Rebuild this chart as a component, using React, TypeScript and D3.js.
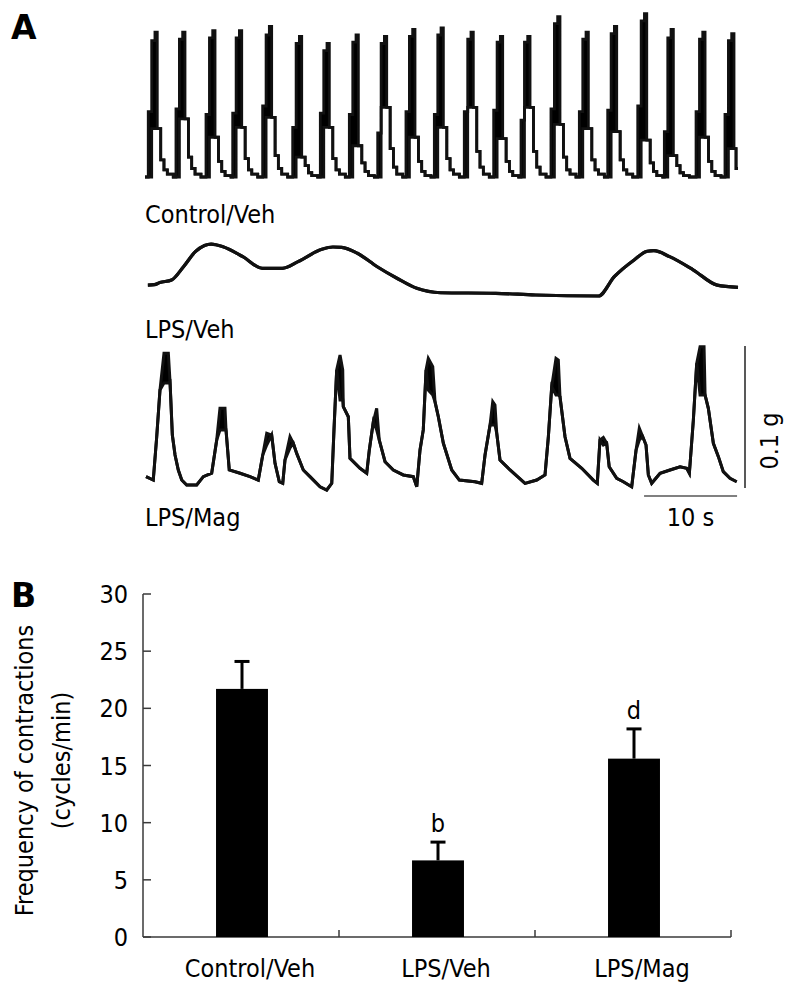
import React from 'react';
import * as d3 from 'd3';

const W = 799;
const H = 992;

// ---------- Panel A: isometric contraction traces ----------
// time in s, force in mg; [time, upper, lower?] (lower defaults to upper)
const traceDuration = 63.76;
const controlTrace: number[][] = [
  [0, 0], [0.35, 46, 0], [0.72, 96, 34], [1.07, 102, 34], [1.32, 34], [1.69, 12], [2.04, 5], [2.4, 2], [3.04, 0],
  [3.33, 48, 0], [3.7, 97, 41], [4.05, 102, 41], [4.3, 41], [4.67, 14], [5.02, 6], [5.38, 2], [6.02, 0],
  [6.56, 44, 0], [6.93, 98, 28], [7.28, 103, 28], [7.53, 28], [7.9, 11], [8.25, 4], [8.61, 1], [9.25, 0],
  [9.43, 45, 0], [9.8, 98, 35], [10.15, 103, 35], [10.4, 35], [10.77, 13], [11.12, 5], [11.48, 2], [12.12, 0],
  [12.65, 50, 0], [13.02, 100, 42], [13.37, 106, 42], [13.62, 42], [13.99, 15], [14.34, 6], [14.7, 2], [15.34, 0],
  [15.88, 35, 0], [16.25, 94, 14], [16.6, 99, 14], [16.85, 14], [17.22, 8], [17.57, 3], [17.93, 1], [18.57, 0],
  [18.85, 45, 0], [19.22, 89, 35], [19.57, 94, 35], [19.82, 35], [20.19, 13], [20.54, 5], [20.9, 2], [21.54, 0],
  [21.97, 44, 0], [22.34, 95, 22], [22.69, 100, 22], [22.94, 22], [23.31, 10], [23.66, 4], [24.02, 1], [24.66, 0],
  [25.02, 31, 0], [25.39, 94, 49], [25.74, 99, 49], [25.99, 49], [26.36, 20], [26.71, 7], [27.07, 2], [27.71, 0],
  [28.06, 46, 0], [28.43, 99, 28], [28.78, 104, 28], [29.03, 28], [29.4, 11], [29.75, 4], [30.11, 1], [30.75, 0],
  [31.11, 44, 0], [31.48, 100, 35], [31.83, 105, 35], [32.08, 35], [32.45, 13], [32.8, 5], [33.16, 2], [33.8, 0],
  [34.33, 46, 0], [34.7, 97, 49], [35.05, 102, 49], [35.3, 49], [35.67, 18], [36.02, 7], [36.38, 2], [37.02, 0],
  [37.49, 47, 0], [37.86, 95, 27], [38.21, 99, 27], [38.46, 27], [38.83, 11], [39.18, 4], [39.54, 1], [40.18, 0],
  [40.43, 40, 0], [40.8, 95, 49], [41.15, 99, 49], [41.4, 49], [41.77, 18], [42.12, 7], [42.48, 2], [43.12, 0],
  [43.65, 48, 0], [44.02, 108, 37], [44.37, 113, 37], [44.62, 37], [44.99, 14], [45.34, 5], [45.7, 2], [46.34, 0],
  [46.7, 46, 0], [47.07, 97, 34], [47.42, 102, 34], [47.67, 34], [48.04, 12], [48.39, 5], [48.75, 2], [49.39, 0],
  [49.75, 47, 0], [50.12, 101, 32], [50.47, 106, 32], [50.72, 32], [51.09, 12], [51.44, 5], [51.8, 2], [52.44, 0],
  [52.98, 50, 0], [53.35, 110, 26], [53.7, 115, 26], [53.95, 26], [54.32, 10], [54.67, 4], [55.03, 1], [55.67, 0],
  [55.84, 32, 0], [56.21, 98, 15], [56.56, 104, 15], [56.81, 15], [57.18, 8], [57.53, 3], [57.89, 1], [58.53, 0],
  [59.25, 46, 0], [59.62, 97, 28], [59.97, 102, 28], [60.22, 28], [60.59, 11], [60.94, 4], [61.3, 1], [61.94, 0],
  [62.36, 44, 0], [62.73, 96, 20], [63.08, 101, 20], [63.33, 20], [63.55, 6], [63.76, 6],
];
const lpsVehTrace: number[][] = [
  [0.31, 7.7], [1.0, 8.0], [1.6, 9.5], [2.86, 11.3], [4.14, 20.6], [5.41, 31.2], [6.4, 35.6], [7.11, 36.6],
  [8.39, 34.7], [10.52, 27.7], [12.63, 19.5], [14.76, 19.5], [16.46, 24.2], [19.01, 32.9], [20.2, 34.5],
  [21.14, 34.3], [22.84, 30.1], [24.97, 20.6], [27.09, 12.5], [29.22, 5.4], [31.76, 2.3], [37.71, 1.9],
  [41.97, 0.7], [48.76, 0], [50.46, 13.6], [52.59, 25.4], [54.0, 31.5], [54.71, 31.9], [56.41, 27.7],
  [58.97, 18.3], [61.52, 7.7], [63.76, 6.1],
];
const lpsMagTrace: number[][] = [
  [0.11, 9.4], [0.89, 7.0], [1.26, 37.5], [1.61, 70.4], [2.04, 96.3, 75.4], [2.51, 96.3, 75.4], [2.69, 76.3],
  [2.94, 38.7], [3.23, 24.6], [3.58, 14.1], [3.95, 7.0], [4.48, 3.5], [5.56, 3.5], [6.27, 9.4], [7.17, 11.8],
  [7.71, 35.2], [8.06, 57.5, 42.3], [8.6, 57.5, 42.3], [8.71, 42.3], [9.06, 14.1], [10.22, 11.8], [11.29, 9.4],
  [12.18, 7.0], [12.66, 24.6], [13.09, 39.9, 31.7], [13.62, 38.7], [13.98, 18.8], [14.44, 5.8], [14.81, 4.7],
  [15.05, 21.1], [15.59, 37.5, 29.6], [15.95, 32.9], [16.31, 25.8], [17.02, 14.1], [17.74, 9.4], [18.82, 2.3],
  [19.54, 0], [20.08, 4.7], [20.32, 42.3], [20.61, 84.5], [20.97, 95.1, 63.4], [21.26, 84.5, 63.4], [21.32, 58.7],
  [21.86, 51.6], [22.04, 22.3], [23.12, 15.3], [23.84, 11.8], [24.12, 28.2], [24.55, 48.1], [24.91, 57.5, 42.3],
  [25.19, 35.2], [25.81, 19.9], [26.7, 14.1], [27.77, 10.6], [28.85, 9.4], [29.22, 2.3], [29.57, 28.2],
  [29.92, 42.3], [30.22, 84.5], [30.46, 92.7, 70.4], [30.94, 86.8, 66.9], [31.18, 62.2], [31.54, 51.6],
  [32.08, 32.9], [32.98, 14.1], [33.8, 7.0], [35.48, 5.8], [36.2, 4.7], [36.56, 24.6], [37.1, 45.8],
  [37.39, 62.2, 45.8], [37.63, 59.9, 45.8], [37.82, 39.9], [38.17, 21.1], [39.25, 14.1], [40.86, 4.7],
  [42.12, 7.0], [43.01, 10.6], [43.37, 37.5], [43.73, 72.7], [44.19, 92.7, 66.9], [44.44, 91.5, 66.9],
  [44.62, 65.7], [45.16, 37.5], [45.7, 22.3], [46.96, 15.3], [48.2, 7.0], [48.63, 4.7], [48.92, 35.2],
  [49.28, 37.0, 31.7], [49.64, 32.9], [49.91, 16.4], [50.72, 8.2], [51.43, 5.8], [52.33, 2.3], [52.8, 28.2],
  [53.15, 43.5, 35.2], [53.52, 37.5], [53.87, 31.7], [54.12, 10.6], [54.48, 4.7], [55.38, 11.8], [56.45, 14.1],
  [57.53, 16.4], [58.25, 15.3], [58.53, 11.8], [58.96, 49.3], [59.32, 89.2], [59.68, 100.9, 66.9],
  [60.11, 100.9, 66.9], [60.22, 66.9], [60.57, 57.5], [61.11, 32.9], [61.65, 23.5], [62.18, 12.9],
  [62.9, 8.2], [63.62, 5.8],
];
const traceLabels = ['Control/Veh', 'LPS/Veh', 'LPS/Mag'];
const timeBarSeconds = 10;
const forceBarMg = 100;
const timeBarText = '10 s';
const forceBarText = '0.1 g';

// ---------- Panel B: frequency bar chart ----------
const categories = ['Control/Veh', 'LPS/Veh', 'LPS/Mag'];
const means = [21.7, 6.7, 15.6];
const errors = [2.4, 1.6, 2.6];
const sigLetters = ['', 'b', 'd'];
const yTicks = [0, 5, 10, 15, 20, 25, 30];
const yLabelLines = ['Frequency of contractions', '(cycles/min)'];

const FONT = "'DejaVu Sans Condensed', 'Liberation Sans', Arial, sans-serif";
const FS = 25;

export default function App() {
  const xT = d3.scaleLinear().domain([0, traceDuration]).range([145, 738]);
  const traceDefs = [
    { data: controlTrace, base: 177, curve: d3.curveStepAfter, labelY: 223, sw: 2.8 },
    { data: lpsVehTrace, base: 296, curve: d3.curveMonotoneX, labelY: 338, sw: 3.2 },
    { data: lpsMagTrace, base: 490, curve: d3.curveLinear, labelY: 526, sw: 3 },
  ];
  const magY = d3.scaleLinear().domain([0, 100]).range([490, 348]);

  // Panel B scales
  const yB = d3.scaleLinear().domain([0, 30]).range([937, 594]);
  const xB = d3.scaleBand<string>().domain(categories).range([143, 731]).padding(0);
  const barW = xB.bandwidth() * 0.265;
  const axisColor = '#3a3a3a';

  return (
    <svg width={W} height={H} style={{ position: 'absolute', left: 0, top: 0, background: '#fff' }}
      fontFamily={FONT}>
      <rect x={0} y={0} width={W} height={H} fill="#fff" />
      {/* Panel letters */}
      <text x={11} y={39} fontSize={33} fontWeight="bold" fontFamily="'DejaVu Sans', sans-serif">A</text>
      <text x={11} y={607} fontSize={33} fontWeight="bold" fontFamily="'DejaVu Sans', sans-serif">B</text>

      {traceDefs.map((t, i) => {
        const y = d3.scaleLinear().domain([0, 100]).range([t.base, t.base - 142]);
        const lo = (d: number[]) => (d.length > 2 ? d[2] : d[1]);
        const area = d3.area<number[]>().x(d => xT(d[0])).y0(d => y(lo(d))).y1(d => y(d[1])).curve(t.curve);
        const hi = d3.line<number[]>().x(d => xT(d[0])).y(d => y(d[1])).curve(t.curve);
        const low = d3.line<number[]>().x(d => xT(d[0])).y(d => y(lo(d))).curve(t.curve);
        return (
          <g key={i}>
            <path d={area(t.data) || ''} fill="#000" />
            <path d={hi(t.data) || ''} fill="none" stroke="#111" strokeWidth={t.sw} />
            <path d={low(t.data) || ''} fill="none" stroke="#111" strokeWidth={t.sw} />
            <text x={145} y={t.labelY} fontSize={FS}>{traceLabels[i]}</text>
          </g>
        );
      })}

      {/* scale bars */}
      <line x1={xT(63.66 - timeBarSeconds)} x2={xT(63.66)} y1={496} y2={496} stroke="#808080" strokeWidth={2} />
      <text x={(xT(63.66 - timeBarSeconds) + xT(63.66)) / 2} y={526} fontSize={FS} textAnchor="middle">{timeBarText}</text>
      <line x1={745} x2={745} y1={magY(1.4)} y2={magY(1.4 + forceBarMg)} stroke="#222" strokeWidth={1.5} />
      <text transform={`translate(778, ${(magY(1.4) + magY(1.4 + forceBarMg)) / 2 + 24}) rotate(-90)`}
        fontSize={FS} textAnchor="middle">{forceBarText}</text>

      {/* Panel B */}
      <line x1={143} x2={143} y1={yB(30)} y2={yB(0)} stroke={axisColor} strokeWidth={1.5} />
      <line x1={143} x2={731} y1={yB(0)} y2={yB(0)} stroke={axisColor} strokeWidth={1.5} />
      {yTicks.map(v => (
        <g key={v}>
          <line x1={143} x2={151} y1={yB(v)} y2={yB(v)} stroke={axisColor} strokeWidth={1.5} />
          <text x={128} y={yB(v)} dy="0.36em" fontSize={FS} textAnchor="end">{v}</text>
        </g>
      ))}
      {categories.map((c, i) => {
        const x0 = xB(c)!;
        const cx = x0 + xB.bandwidth() / 2 + 1;
        const top = yB(means[i]);
        const errTop = yB(means[i] + errors[i]);
        return (
          <g key={c}>
            <line x1={x0 + xB.bandwidth()} x2={x0 + xB.bandwidth()} y1={yB(0)} y2={yB(0) - 7} stroke={axisColor} strokeWidth={1.5} />
            <rect x={cx - barW / 2} y={top} width={barW} height={yB(0) - top} fill="#000" />
            <line x1={cx} x2={cx} y1={top} y2={errTop} stroke="#000" strokeWidth={3} />
            <line x1={cx - 7.5} x2={cx + 7.5} y1={errTop} y2={errTop} stroke="#000" strokeWidth={3} />
            {sigLetters[i] && (
              <text x={cx} y={errTop - 10} fontSize={FS} textAnchor="middle">{sigLetters[i]}</text>
            )}
            <text x={x0 + xB.bandwidth() / 2 + 9} y={977} fontSize={FS} textAnchor="middle">{c}</text>
          </g>
        );
      })}
      <text transform={`translate(33, ${yB(15) + 5}) rotate(-90)`} fontSize={FS} textAnchor="middle">{yLabelLines[0]}</text>
      <text transform={`translate(70, ${yB(15) - 5}) rotate(-90)`} fontSize={FS} textAnchor="middle">{yLabelLines[1]}</text>
    </svg>
  );
}
